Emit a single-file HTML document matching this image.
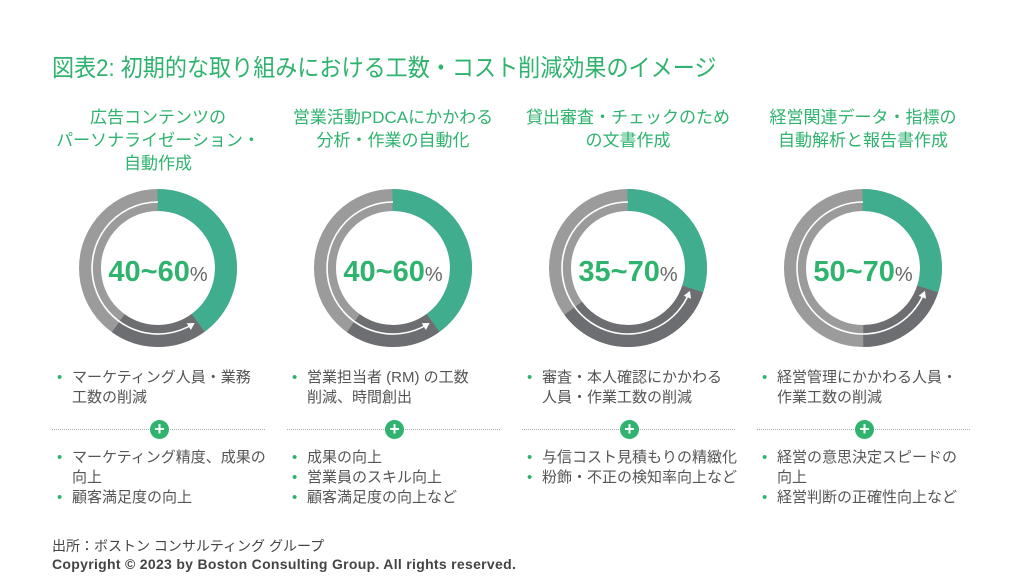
<!DOCTYPE html>
<html><head><meta charset="utf-8"><style>
body{margin:0;width:1024px;height:576px;background:#fff;position:relative;overflow:hidden;font-family:"Liberation Sans","Noto Sans CJK JP",sans-serif;}
.t{position:absolute;white-space:nowrap;}
.title{left:52px;top:48px;font-size:24px;color:#2fb36e;transform:scaleX(0.92);transform-origin:0 0;}
.h{position:absolute;top:106px;width:230px;text-align:center;font-size:17px;line-height:23px;color:#2fb36e;}
.b{position:absolute;font-size:15px;line-height:20px;color:#555;}
.b div{position:relative;padding-left:15px;}
.b div.s:before{content:"•";position:absolute;left:0;color:#2fb36e;}
.dot{position:absolute;top:429px;width:213px;border-top:1.5px dotted #aaa;}
.plus{position:absolute;top:420px;width:19px;height:19px;border-radius:50%;background:#2fb36e;color:#fff;font-size:18px;line-height:19px;text-align:center;font-weight:bold;}
.foot{left:52px;top:536px;font-size:14px;color:#444;}
.copy{left:52px;top:556px;font-size:14px;color:#444;font-weight:bold;letter-spacing:0.3px;}
</style></head><body>
<div class="t title">図表2: 初期的な取り組みにおける工数・コスト削減効果のイメージ</div>

<div class="h" style="left:43px">広告コンテンツの<br>パーソナライゼーション・<br>自動作成</div>
<div class="h" style="left:278px">営業活動PDCAにかかわる<br>分析・作業の自動化</div>
<div class="h" style="left:513px">貸出審査・チェックのため<br>の文書作成</div>
<div class="h" style="left:748px">経営関連データ・指標の<br>自動解析と報告書作成</div>

<svg width="1024" height="576" style="position:absolute;left:0;top:0">
<defs><marker id="ar" markerWidth="8" markerHeight="8" refX="5" refY="4" orient="auto" markerUnits="userSpaceOnUse"><path d="M0,0 L7,4 L0,8 Z" fill="#fff"/></marker></defs>
<g fill="none" stroke-width="22">
<g transform="rotate(-90 158 268)">
<circle cx="158" cy="268" r="68" pathLength="100" stroke="#9b9b9b"/>
<circle cx="158" cy="268" r="68" pathLength="100" stroke="#6d6e71" stroke-dasharray="20 80" stroke-dashoffset="-40"/>
<circle cx="158" cy="268" r="68" pathLength="100" stroke="#40ad8f" stroke-dasharray="40 60"/>
</g>
<g transform="rotate(-90 393 268)">
<circle cx="393" cy="268" r="68" pathLength="100" stroke="#9b9b9b"/>
<circle cx="393" cy="268" r="68" pathLength="100" stroke="#6d6e71" stroke-dasharray="20 80" stroke-dashoffset="-40"/>
<circle cx="393" cy="268" r="68" pathLength="100" stroke="#40ad8f" stroke-dasharray="40 60"/>
</g>
<g transform="rotate(-90 628 268)">
<circle cx="628" cy="268" r="68" pathLength="100" stroke="#9b9b9b"/>
<circle cx="628" cy="268" r="68" pathLength="100" stroke="#6d6e71" stroke-dasharray="35 65" stroke-dashoffset="-30"/>
<circle cx="628" cy="268" r="68" pathLength="100" stroke="#40ad8f" stroke-dasharray="30 70"/>
</g>
<g transform="rotate(-90 863 268)">
<circle cx="863" cy="268" r="68" pathLength="100" stroke="#9b9b9b"/>
<circle cx="863" cy="268" r="68" pathLength="100" stroke="#6d6e71" stroke-dasharray="20 80" stroke-dashoffset="-30"/>
<circle cx="863" cy="268" r="68" pathLength="100" stroke="#40ad8f" stroke-dasharray="30 70"/>
</g>
</g>
<g fill="none" stroke="#fff" stroke-width="1.6" marker-end="url(#ar)">
<path d="M158,202 A66,66 0 1 0 193,324"/>
<path d="M393,202 A66,66 0 1 0 428,324"/>
<path d="M628,202 A66,66 0 1 0 689.2,292.7"/>
<path d="M863,202 A66,66 0 1 0 924.2,292.7"/>
</g>
<g font-family="Liberation Sans, sans-serif" font-weight="bold" text-anchor="middle">
<text x="158" y="281" font-size="29"><tspan fill="#2fb36e">40~60</tspan><tspan fill="#666" font-size="20" font-weight="normal">%</tspan></text>
<text x="393" y="281" font-size="29"><tspan fill="#2fb36e">40~60</tspan><tspan fill="#666" font-size="20" font-weight="normal">%</tspan></text>
<text x="628" y="281" font-size="29"><tspan fill="#2fb36e">35~70</tspan><tspan fill="#666" font-size="20" font-weight="normal">%</tspan></text>
<text x="863" y="281" font-size="29"><tspan fill="#2fb36e">50~70</tspan><tspan fill="#666" font-size="20" font-weight="normal">%</tspan></text>
</g>
</svg>

<div class="b" style="left:57px;top:368px"><div class="s">マーケティング人員・業務</div><div>工数の削減</div></div>
<div class="b" style="left:292px;top:368px"><div class="s">営業担当者 (RM) の工数</div><div>削減、時間創出</div></div>
<div class="b" style="left:527px;top:368px"><div class="s">審査・本人確認にかかわる</div><div>人員・作業工数の削減</div></div>
<div class="b" style="left:762px;top:368px"><div class="s">経営管理にかかわる人員・</div><div>作業工数の削減</div></div>

<div class="dot" style="left:52px"></div><div class="plus" style="left:150px">+</div>
<div class="dot" style="left:287px"></div><div class="plus" style="left:385px">+</div>
<div class="dot" style="left:522px"></div><div class="plus" style="left:620px">+</div>
<div class="dot" style="left:757px"></div><div class="plus" style="left:855px">+</div>

<div class="b" style="left:57px;top:448px"><div class="s">マーケティング精度、成果の</div><div>向上</div><div class="s">顧客満足度の向上</div></div>
<div class="b" style="left:292px;top:448px"><div class="s">成果の向上</div><div class="s">営業員のスキル向上</div><div class="s">顧客満足度の向上など</div></div>
<div class="b" style="left:527px;top:448px"><div class="s">与信コスト見積もりの精緻化</div><div class="s">粉飾・不正の検知率向上など</div></div>
<div class="b" style="left:762px;top:448px"><div class="s">経営の意思決定スピードの</div><div>向上</div><div class="s">経営判断の正確性向上など</div></div>

<div class="t foot">出所：ボストン コンサルティング グループ</div>
<div class="t copy">Copyright © 2023 by Boston Consulting Group. All rights reserved.</div>
</body></html>
